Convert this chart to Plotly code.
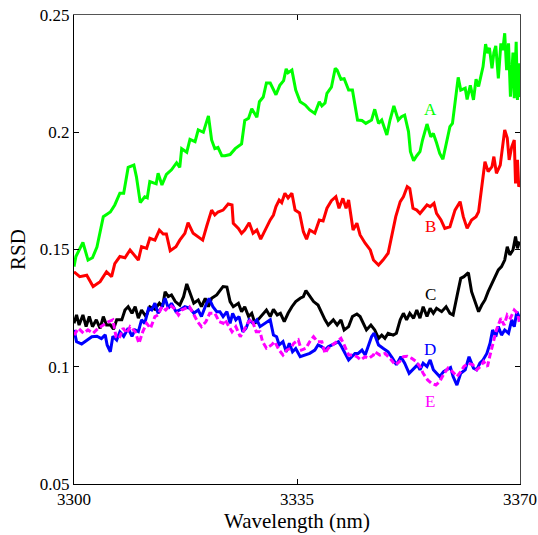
import plotly.graph_objects as go

# Relative standard deviation spectra, series A-E
wl_a = [3300.0, 3300.3, 3301.4, 3302.2, 3302.9, 3303.6, 3304.6, 3305.7, 3306.4, 3307.2, 3307.8, 3308.5, 3309.4, 3309.8,
        3310.4, 3311.1, 3311.5, 3311.9, 3312.9, 3313.2, 3313.8, 3314.5, 3315.3, 3316.1, 3316.6, 3316.9, 3317.7, 3318.2,
        3319.0, 3319.5, 3320.3, 3321.1, 3321.6, 3322.1, 3322.6, 3323.2, 3323.7, 3324.5, 3325.3, 3326.3, 3326.8, 3327.4,
        3327.9, 3328.7, 3329.1, 3329.7, 3330.2, 3330.8, 3331.7, 3332.3, 3332.9, 3333.3, 3333.6, 3334.2, 3334.8, 3335.5,
        3336.3, 3337.0, 3337.8, 3338.5, 3338.9, 3339.4, 3339.7, 3340.4, 3341.0, 3341.3, 3341.9, 3342.4, 3343.1, 3343.7,
        3344.5, 3345.2, 3345.8, 3346.7, 3347.2, 3347.8, 3348.3, 3349.1, 3349.6, 3350.2, 3350.9, 3351.4, 3351.9, 3352.5,
        3352.8, 3353.3, 3353.8, 3354.3, 3354.7, 3355.4, 3356.0, 3356.4, 3356.9, 3357.4, 3357.9, 3358.4, 3359.0, 3359.4,
        3359.8, 3360.3, 3360.7, 3361.4, 3361.7, 3362.2, 3362.7, 3363.1, 3363.5, 3363.8, 3364.2, 3364.6, 3364.9, 3365.2,
        3365.6, 3365.9, 3366.2, 3366.6, 3367.0, 3367.3, 3367.6, 3367.9, 3368.2, 3368.5, 3368.9, 3369.1, 3369.4, 3369.6,
        3369.9, 3370.0]
rsd_a = [0.1427, 0.147, 0.153, 0.1455, 0.1465, 0.151, 0.164, 0.166, 0.169, 0.174, 0.174, 0.185, 0.186, 0.181,
         0.170, 0.1725, 0.172, 0.179, 0.178, 0.1825, 0.1775, 0.182, 0.184, 0.187, 0.185, 0.193, 0.1915, 0.197,
         0.196, 0.201, 0.200, 0.207, 0.1967, 0.193, 0.1935, 0.190, 0.190, 0.1905, 0.193, 0.195, 0.205, 0.206,
         0.210, 0.2064, 0.213, 0.215, 0.221, 0.221, 0.216, 0.220, 0.222, 0.227, 0.2254, 0.2265, 0.218, 0.213,
         0.2116, 0.2095, 0.208, 0.213, 0.2112, 0.2125, 0.2166, 0.2192, 0.2273, 0.2265, 0.2226, 0.2228, 0.218, 0.218,
         0.2052, 0.205, 0.2038, 0.2052, 0.2098, 0.2038, 0.2052, 0.1988, 0.2052, 0.2112, 0.2052, 0.2066, 0.2073, 0.2003,
         0.1917, 0.1879, 0.190, 0.1917, 0.1967, 0.2035, 0.1981, 0.1995, 0.1955, 0.191, 0.1885, 0.1953, 0.2024, 0.2038,
         0.213, 0.2234, 0.218, 0.2188, 0.214, 0.220, 0.2138, 0.2226, 0.2195, 0.223, 0.228, 0.2376, 0.2337, 0.236,
         0.2273, 0.234, 0.2368, 0.223, 0.2379, 0.235, 0.2422, 0.2265, 0.2379, 0.2152, 0.234, 0.2145, 0.2386, 0.2138,
         0.2294, 0.215]

wl_b = [3300.0, 3300.9, 3302.0, 3303.0, 3304.1, 3305.1, 3305.9, 3306.4, 3307.2, 3308.0, 3308.8, 3309.6, 3310.1, 3310.6,
        3311.4, 3311.9, 3312.7, 3313.4, 3314.0, 3314.5, 3315.1, 3316.0, 3316.6, 3317.4, 3317.9, 3318.7, 3319.5, 3320.2,
        3320.8, 3321.6, 3322.1, 3322.6, 3323.4, 3324.2, 3324.8, 3325.0, 3325.8, 3326.3, 3326.8, 3327.5, 3328.1, 3328.7,
        3329.3, 3330.0, 3330.8, 3331.3, 3331.7, 3332.2, 3332.6, 3333.1, 3333.6, 3334.2, 3334.7, 3335.4, 3336.0, 3336.5,
        3337.0, 3337.8, 3338.5, 3339.1, 3339.7, 3340.4, 3341.1, 3341.6, 3342.2, 3342.7, 3343.1, 3343.8, 3344.4, 3344.9,
        3345.7, 3346.5, 3347.0, 3347.8, 3348.5, 3349.3, 3349.9, 3350.5, 3351.2, 3351.7, 3352.3, 3352.7, 3353.2, 3353.8,
        3354.3, 3354.7, 3355.4, 3355.9, 3356.5, 3356.9, 3357.6, 3358.2, 3359.0, 3359.8, 3360.6, 3361.1, 3361.7, 3362.4,
        3363.1, 3363.5, 3364.0, 3364.5, 3365.0, 3365.6, 3365.9, 3366.3, 3366.9, 3367.3, 3367.6, 3368.0, 3368.3, 3368.7,
        3369.1, 3369.3, 3369.6, 3369.8, 3370.0]
rsd_b = [0.1405, 0.1384, 0.139, 0.1342, 0.1363, 0.1405, 0.1384, 0.144, 0.147, 0.1465, 0.1498, 0.147, 0.1455, 0.1512,
         0.1505, 0.1548, 0.154, 0.1583, 0.1566, 0.1566, 0.1495, 0.1512, 0.154, 0.1569, 0.1614, 0.1569, 0.1555, 0.154,
         0.1597, 0.1668, 0.1647, 0.166, 0.1668, 0.1694, 0.169, 0.1612, 0.159, 0.1569, 0.1583, 0.1614, 0.1569, 0.1583,
         0.1544, 0.1583, 0.1626, 0.1647, 0.1683, 0.1711, 0.170, 0.174, 0.172, 0.174, 0.1668, 0.1656, 0.1576, 0.1544,
         0.1583, 0.157, 0.1626, 0.1622, 0.1676, 0.1708, 0.1725, 0.1676, 0.1718, 0.1676, 0.1711, 0.1583, 0.1612, 0.1562,
         0.1527, 0.1498, 0.1455, 0.1434, 0.1455, 0.1484, 0.1555, 0.164, 0.1704, 0.1725, 0.1768, 0.176, 0.1676, 0.1668,
         0.1654, 0.1668, 0.169, 0.1683, 0.1697, 0.1654, 0.1626, 0.159, 0.1597, 0.1668, 0.1704, 0.164, 0.159, 0.1626,
         0.164, 0.1661, 0.1768, 0.1874, 0.1832, 0.1853, 0.1896, 0.1825, 0.186, 0.1938, 0.201, 0.1975, 0.1882, 0.1938,
         0.1967, 0.1782, 0.1882, 0.1768, 0.178]

wl_c = [3300.0, 3300.4, 3300.8, 3301.4, 3301.9, 3302.4, 3302.9, 3303.5, 3304.1, 3304.6, 3305.1, 3305.7, 3306.2, 3306.7,
        3307.5, 3308.0, 3308.5, 3309.1, 3309.6, 3310.1, 3310.6, 3311.3, 3311.9, 3312.7, 3313.4, 3313.9, 3314.3, 3314.8,
        3315.3, 3315.9, 3316.6, 3317.2, 3317.7, 3318.2, 3318.8, 3319.5, 3320.0, 3320.6, 3321.1, 3321.6, 3322.4, 3323.2,
        3323.4, 3324.0, 3324.5, 3325.0, 3325.8, 3326.3, 3326.8, 3327.4, 3327.9, 3328.4, 3329.1, 3329.7, 3330.2, 3330.8,
        3331.3, 3331.9, 3332.4, 3333.0, 3333.6, 3334.2, 3334.8, 3335.5, 3336.0, 3336.4, 3336.9, 3337.6, 3338.3, 3338.9,
        3339.4, 3339.9, 3340.7, 3341.3, 3341.9, 3342.4, 3343.1, 3343.7, 3344.4, 3344.9, 3345.4, 3345.9, 3346.6, 3347.2,
        3347.8, 3348.3, 3348.8, 3349.3, 3350.1, 3350.6, 3351.2, 3351.7, 3352.2, 3352.7, 3353.3, 3353.8, 3354.3, 3354.8,
        3355.4, 3355.9, 3356.4, 3356.9, 3357.7, 3358.4, 3359.0, 3359.5, 3360.2, 3360.7, 3361.2, 3361.9, 3362.4, 3362.9,
        3363.5, 3364.0, 3364.5, 3365.0, 3365.6, 3366.1, 3366.6, 3367.1, 3367.6, 3368.0, 3368.4, 3368.9, 3369.3, 3369.6,
        3369.9]
rsd_c = [0.1185, 0.1221, 0.1178, 0.1221, 0.1171, 0.1214, 0.1171, 0.120, 0.1164, 0.1214, 0.1178, 0.1179, 0.116, 0.120,
         0.120, 0.1242, 0.1256, 0.1228, 0.1256, 0.1207, 0.1242, 0.1214, 0.1256, 0.1245, 0.1271, 0.1256, 0.132, 0.1299,
         0.1306, 0.1278, 0.1263, 0.1299, 0.1353, 0.1313, 0.1271, 0.1285, 0.1256, 0.1292, 0.1256, 0.1292, 0.1306, 0.1335,
         0.1342, 0.134, 0.1278, 0.1256, 0.1271, 0.1235, 0.1256, 0.1214, 0.1228, 0.1185, 0.1207, 0.1228, 0.1242, 0.1214,
         0.1245, 0.1221, 0.1228, 0.1192, 0.1228, 0.1256, 0.1278, 0.1292, 0.1299, 0.1325, 0.1306, 0.1278, 0.1263, 0.1228,
         0.120, 0.1178, 0.120, 0.1178, 0.120, 0.1157, 0.1171, 0.1214, 0.1225, 0.1214, 0.1185, 0.1157, 0.1178, 0.1157,
         0.1121, 0.1135, 0.1121, 0.1143, 0.1135, 0.1143, 0.120, 0.1228, 0.120, 0.1228, 0.1207, 0.1242, 0.1207, 0.1256,
         0.1214, 0.1249, 0.1228, 0.1249, 0.1235, 0.1256, 0.1228, 0.1221, 0.1313, 0.1377, 0.1384, 0.1401, 0.132, 0.1285,
         0.1235, 0.1263, 0.1285, 0.132, 0.1356, 0.1384, 0.1413, 0.1427, 0.1455, 0.1512, 0.1477, 0.1498, 0.1555, 0.1505,
         0.1534]

wl_d = [3300.0, 3300.4, 3301.2, 3302.0, 3302.8, 3303.6, 3304.3, 3304.9, 3305.2, 3305.7, 3306.1, 3306.7, 3307.2, 3307.8,
        3308.5, 3309.1, 3309.6, 3310.1, 3310.6, 3311.1, 3311.7, 3312.2, 3312.7, 3313.2, 3313.8, 3314.3, 3314.8, 3315.3,
        3316.0, 3316.6, 3317.4, 3318.2, 3318.8, 3319.5, 3320.0, 3320.7, 3321.2, 3321.8, 3322.4, 3322.9, 3323.4, 3324.0,
        3324.5, 3324.9, 3325.4, 3325.9, 3326.5, 3327.0, 3327.5, 3328.1, 3328.7, 3329.2, 3330.0, 3330.8, 3331.3, 3331.8,
        3332.2, 3332.8, 3333.3, 3333.8, 3334.3, 3334.8, 3335.5, 3336.3, 3337.0, 3337.8, 3338.3, 3338.9, 3339.4, 3339.9,
        3340.4, 3341.0, 3341.5, 3342.0, 3342.5, 3343.1, 3343.6, 3344.1, 3344.6, 3345.2, 3345.7, 3346.2, 3346.7, 3347.1,
        3347.8, 3348.5, 3349.3, 3350.0, 3350.6, 3351.3, 3351.9, 3352.6, 3353.3, 3353.9, 3354.3, 3354.8, 3355.4, 3355.9,
        3356.4, 3356.9, 3357.4, 3358.0, 3358.6, 3359.1, 3359.5, 3360.1, 3360.7, 3361.4, 3362.0, 3362.7, 3363.2, 3363.7,
        3364.2, 3364.8, 3365.3, 3365.7, 3366.2, 3366.6, 3367.1, 3367.6, 3368.2, 3368.7, 3369.1, 3369.5, 3369.9]
rsd_d = [0.1157, 0.1107, 0.1097, 0.1114, 0.1128, 0.113, 0.112, 0.1136, 0.1093, 0.1064, 0.113, 0.1114, 0.1149, 0.113,
         0.1164, 0.113, 0.1157, 0.115, 0.120, 0.1185, 0.1249, 0.1242, 0.1271, 0.1228, 0.1256, 0.1292, 0.1249, 0.1271,
         0.1235, 0.1242, 0.1256, 0.1249, 0.1228, 0.1242, 0.1214, 0.1263, 0.1292, 0.1256, 0.1235, 0.1235, 0.1214, 0.1235,
         0.1185, 0.1228, 0.120, 0.1214, 0.1149, 0.1164, 0.120, 0.1185, 0.120, 0.1171, 0.1185, 0.120, 0.1135, 0.1128,
         0.1093, 0.1107, 0.1064, 0.110, 0.1064, 0.1078, 0.1043, 0.105, 0.1057, 0.1071, 0.1093, 0.1085, 0.1071, 0.1085,
         0.1093, 0.110, 0.1107, 0.1085, 0.1057, 0.1029, 0.1043, 0.1057, 0.1057, 0.1071, 0.105, 0.1085, 0.1128, 0.1143,
         0.1093, 0.1079, 0.1064, 0.1036, 0.1008, 0.1043, 0.1015, 0.0972, 0.0994, 0.1008, 0.0987, 0.1015, 0.1001, 0.1029,
         0.0987, 0.0972, 0.0958, 0.0979, 0.0987, 0.0997, 0.0958, 0.0922, 0.0972, 0.0987, 0.1043, 0.0994, 0.0987, 0.1015,
         0.1029, 0.1057, 0.110, 0.1157, 0.1128, 0.1171, 0.1135, 0.1157, 0.1143, 0.120, 0.1171, 0.1235, 0.121]

wl_e = [3300.0, 3300.7, 3301.5, 3302.2, 3303.0, 3303.8, 3304.6, 3305.4, 3306.1, 3306.6, 3307.1, 3307.7, 3308.3, 3308.8,
        3309.6, 3310.2, 3310.8, 3311.4, 3312.0, 3312.7, 3313.2, 3313.8, 3314.4, 3315.1, 3315.7, 3316.4, 3316.9, 3317.4,
        3318.1, 3318.7, 3319.4, 3320.0, 3320.7, 3321.3, 3322.1, 3322.8, 3323.4, 3323.7, 3324.2, 3324.8, 3325.4, 3326.1,
        3326.7, 3327.4, 3327.9, 3328.6, 3329.2, 3329.6, 3330.2, 3331.0, 3331.5, 3332.2, 3332.8, 3333.4, 3334.0, 3334.5,
        3335.2, 3335.7, 3336.4, 3337.0, 3337.6, 3338.2, 3338.9, 3339.4, 3339.9, 3340.6, 3341.2, 3341.9, 3342.4, 3343.1,
        3343.7, 3344.4, 3345.0, 3345.7, 3346.3, 3347.0, 3347.2, 3348.0, 3348.8, 3349.6, 3350.4, 3351.1, 3351.7, 3352.3,
        3353.0, 3353.7, 3354.3, 3354.8, 3355.5, 3356.1, 3356.8, 3357.4, 3358.1, 3358.7, 3359.4, 3360.1, 3360.7, 3361.2,
        3361.9, 3362.6, 3363.2, 3363.8, 3364.3, 3364.9, 3365.3, 3365.8, 3366.3, 3367.0, 3367.5, 3368.0, 3368.5, 3369.1,
        3369.6, 3369.9]
rsd_e = [0.1135, 0.1164, 0.1143, 0.1157, 0.1143, 0.1164, 0.1178, 0.1192, 0.120, 0.1128, 0.1121, 0.1164, 0.1143, 0.1171,
         0.115, 0.110, 0.115, 0.1185, 0.1164, 0.1214, 0.1221, 0.1256, 0.1242, 0.1263, 0.1249, 0.1221, 0.1242, 0.1249,
         0.1256, 0.1228, 0.1192, 0.1171, 0.1192, 0.1228, 0.1228, 0.1192, 0.1185, 0.120, 0.1178, 0.1149, 0.1171, 0.1128,
         0.1157, 0.1192, 0.1203, 0.1149, 0.1149, 0.1107, 0.1079, 0.1093, 0.1107, 0.1071, 0.105, 0.1071, 0.1079, 0.110,
         0.1114, 0.1071, 0.1079, 0.1107, 0.1128, 0.1107, 0.1107, 0.1057, 0.1079, 0.1093, 0.1107, 0.1121, 0.1093, 0.105,
         0.105, 0.1043, 0.1029, 0.1043, 0.1036, 0.105, 0.1064, 0.105, 0.1057, 0.1036, 0.1008, 0.1022, 0.1043, 0.1045,
         0.1036, 0.1022, 0.1001, 0.0972, 0.0944, 0.093, 0.0922, 0.0937, 0.0972, 0.0994, 0.0979, 0.0958, 0.0979, 0.1001,
         0.1015, 0.1008, 0.0987, 0.1001, 0.1022, 0.1001, 0.105, 0.110, 0.1157, 0.1207, 0.1178, 0.1221, 0.1207, 0.1242,
         0.1228, 0.119]

series_names = ["A", "B", "C", "D", "E"]
series_colors = ["#00ff00", "#ff0000", "#000000", "#0000ff", "#ff00ff"]
label_x = [3355.9, 3355.9, 3355.9, 3355.9, 3355.9]
label_y = [0.2099, 0.1597, 0.1306, 0.1072, 0.0851]

x_ticks = [3300, 3335, 3370]
y_ticks = [0.05, 0.1, 0.15, 0.2, 0.25]
y_tick_text = ["0.05", "0.1", "0.15", "0.2", "0.25"]

SERIF = "Liberation Serif"

fig = go.Figure()
all_x = [wl_a, wl_b, wl_c, wl_d, wl_e]
all_y = [rsd_a, rsd_b, rsd_c, rsd_d, rsd_e]
for name, color, xs, ys in zip(series_names, series_colors, all_x, all_y):
    fig.add_trace(go.Scatter(
        x=xs, y=ys, mode="lines", name=name,
        line=dict(color=color, width=3, dash="6px,3px" if name == "E" else "solid"),
        showlegend=False, hoverinfo="skip",
    ))

for name, color, lx, ly in zip(series_names, series_colors, label_x, label_y):
    fig.add_annotation(x=lx, y=ly, text=name, showarrow=False,
                       font=dict(family=SERIF, size=17, color=color))

axis_common = dict(ticks="inside", ticklen=5, tickwidth=1, tickcolor="#000", automargin=False,
                   showgrid=False, zeroline=False, showline=True, linewidth=1)
title_font = dict(family=SERIF, size=21, color="#000")
tick_font = dict(family=SERIF, size=17, color="#000")

fig.update_layout(
    width=538, height=535,
    margin=dict(l=74, r=18, t=15, b=51, autoexpand=False),
    paper_bgcolor="white", plot_bgcolor="white",
    font=dict(family=SERIF, size=17, color="#000"),
    xaxis=dict(range=[3300, 3370], tickvals=x_ticks, ticktext=[str(v) for v in x_ticks], tickfont=tick_font,
               linecolor="#000", title=dict(text="Wavelength (nm)", font=title_font, standoff=0),
               **axis_common),
    yaxis=dict(range=[0.05, 0.25], tickvals=y_ticks, ticktext=y_tick_text, tickfont=tick_font,
               linecolor="#000", title=dict(text="RSD", font=title_font, standoff=8),
               **axis_common),
    xaxis2=dict(range=[3300, 3370], tickvals=x_ticks, showticklabels=False, overlaying="x",
                side="top", anchor="y", linecolor="#555", **axis_common),
    yaxis2=dict(range=[0.05, 0.25], tickvals=y_ticks, showticklabels=False, overlaying="y",
                side="right", anchor="x", linecolor="#444", **axis_common),
)
# invisible trace to activate the mirrored frame axes
fig.add_trace(go.Scatter(x=[3300], y=[0.05], xaxis="x2", yaxis="y2", mode="markers",
                         marker=dict(opacity=0), showlegend=False, hoverinfo="skip"))

fig.write_html("out.html")
